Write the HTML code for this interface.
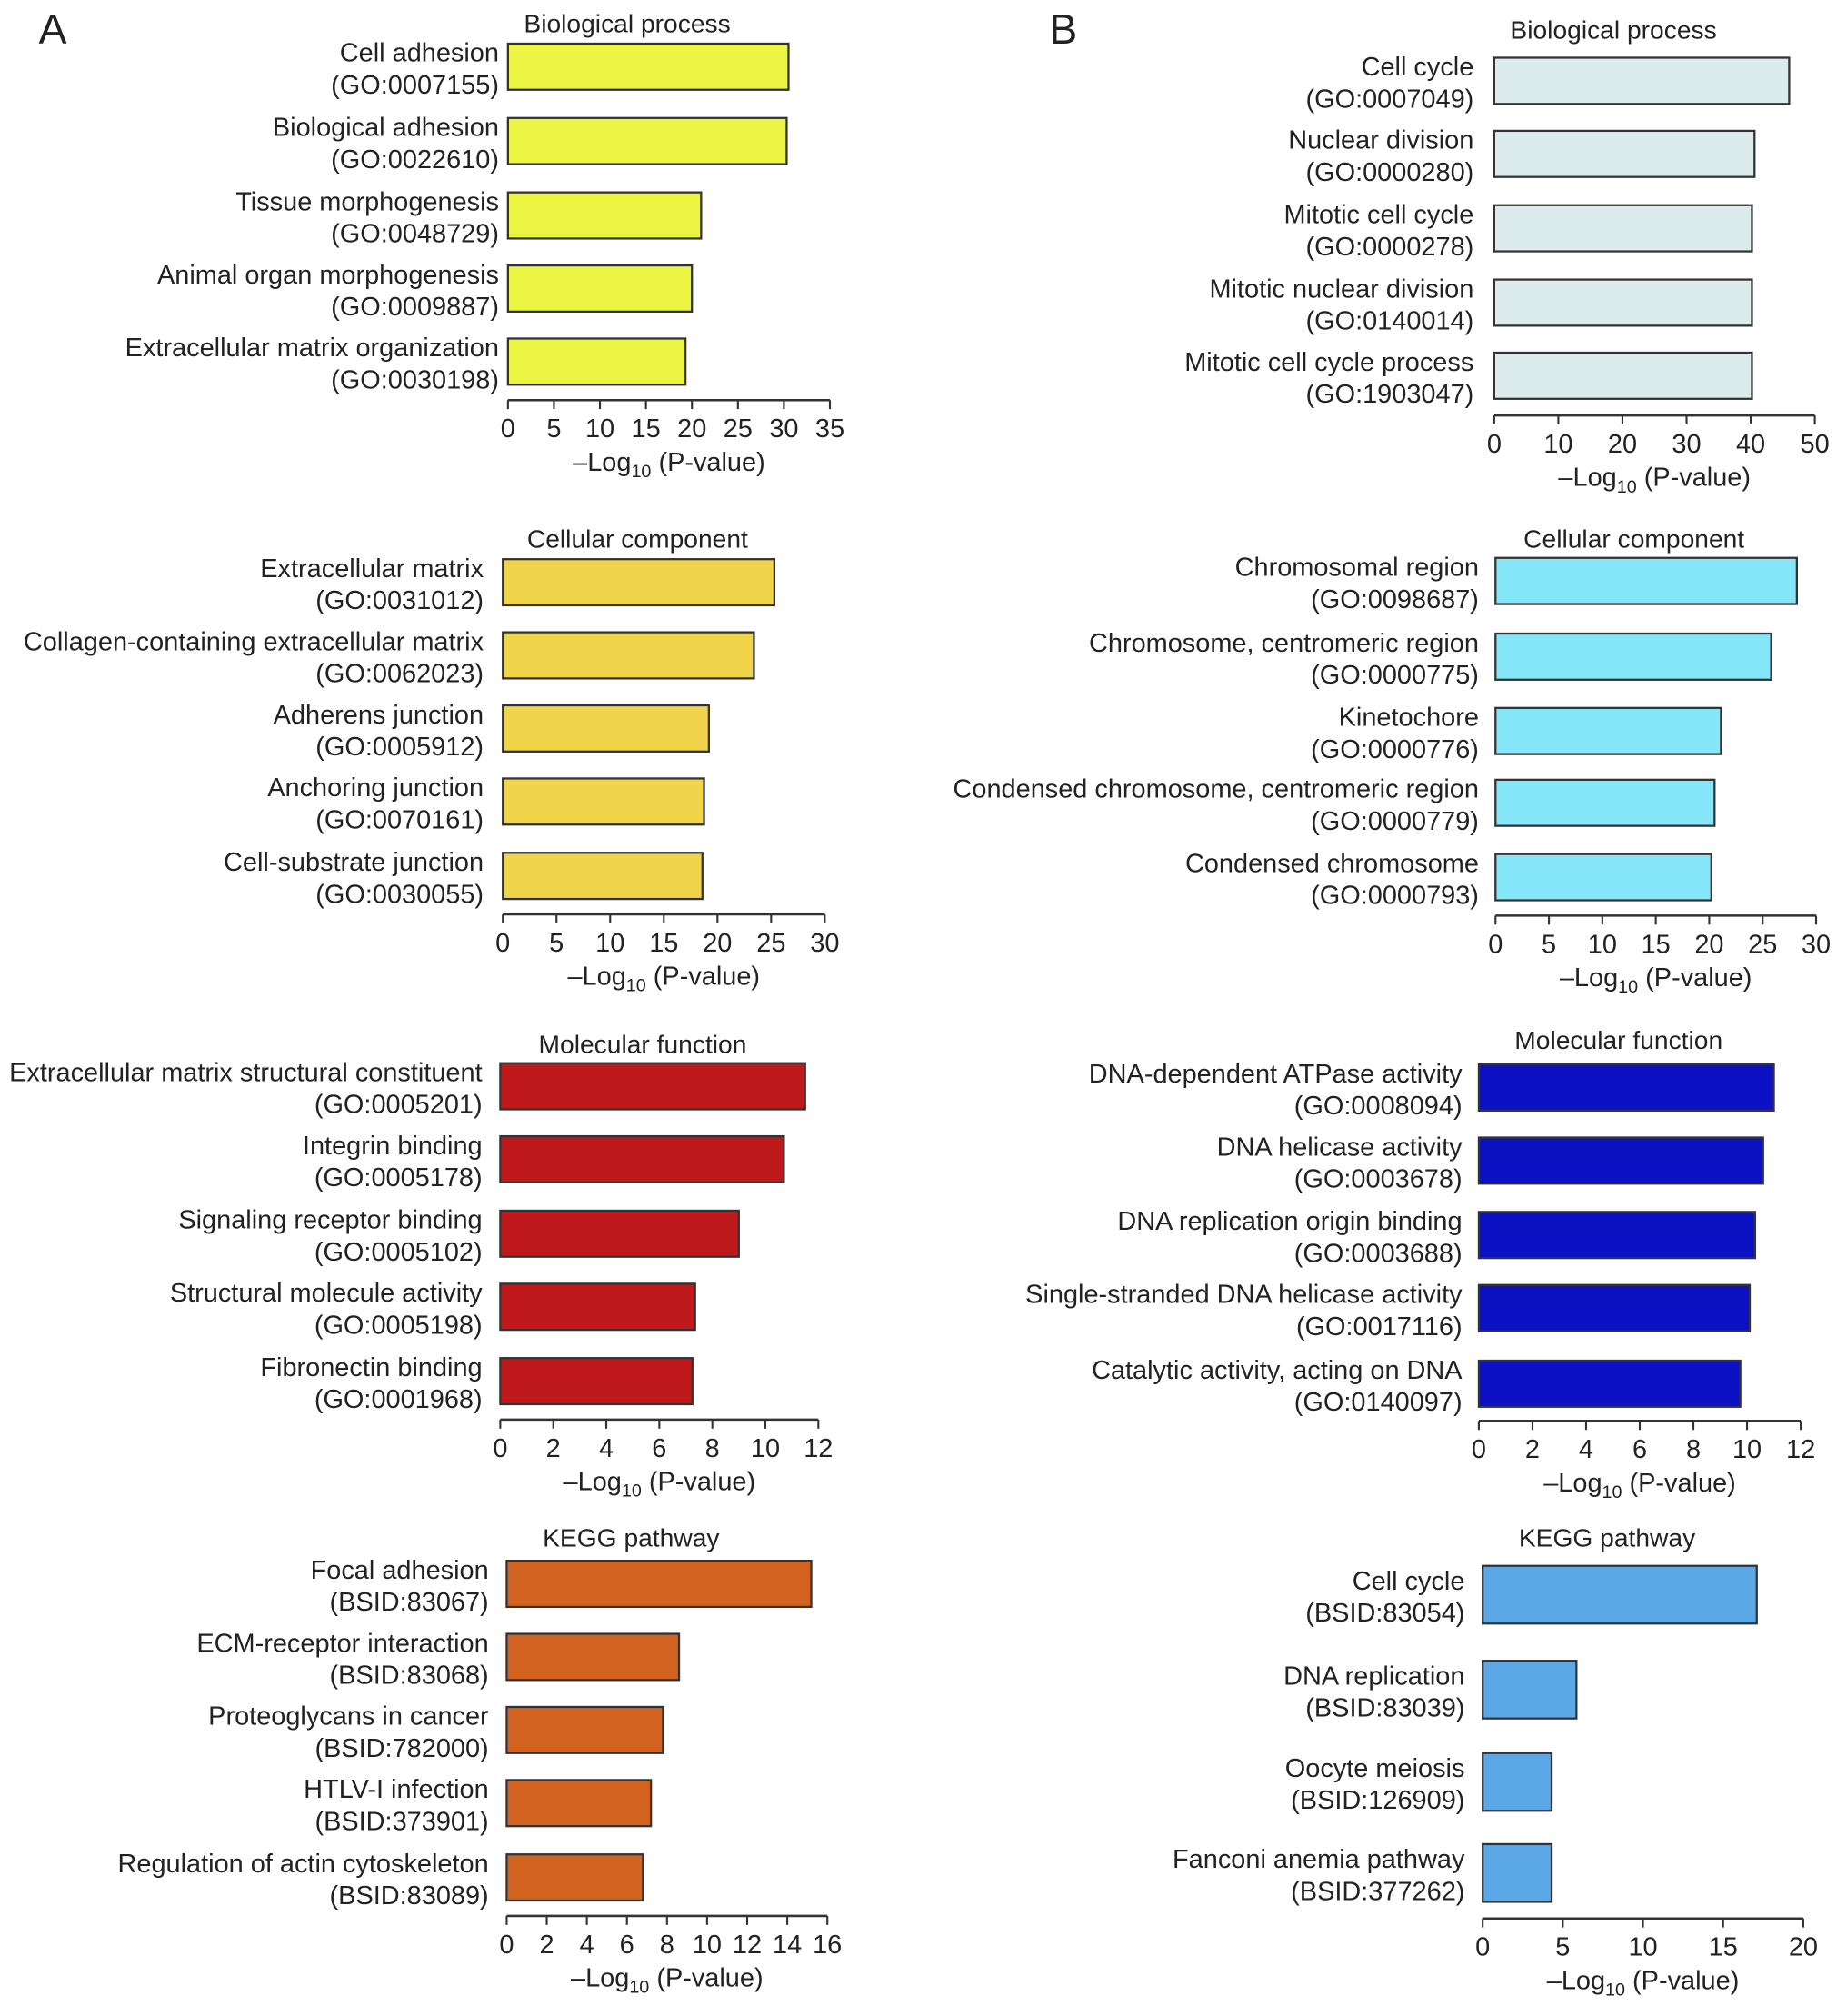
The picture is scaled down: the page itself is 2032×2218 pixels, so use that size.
<!DOCTYPE html>
<html><head><meta charset="utf-8"><style>
html,body{margin:0;padding:0;background:#fff}
svg{display:block}
text{font-family:"Liberation Sans",sans-serif;fill:#222}
</style></head><body>
<svg id="fig" width="2032" height="2218" viewBox="0 0 1440 1572" xmlns="http://www.w3.org/2000/svg">
<text x="30" y="34" font-size="33">A</text>
<text x="818" y="34" font-size="33">B</text>
</svg>
<script>
// ---- data ----
const aBpLabels = ["Cell adhesion","Biological adhesion","Tissue morphogenesis","Animal organ morphogenesis","Extracellular matrix organization"];
const aBpIds = ["(GO:0007155)","(GO:0022610)","(GO:0048729)","(GO:0009887)","(GO:0030198)"];
const aBpValues = [30.5,30.3,21.0,20.0,19.3];
const aBpTicks = [0,5,10,15,20,25,30,35];

const aCcLabels = ["Extracellular matrix","Collagen-containing extracellular matrix","Adherens junction","Anchoring junction","Cell-substrate junction"];
const aCcIds = ["(GO:0031012)","(GO:0062023)","(GO:0005912)","(GO:0070161)","(GO:0030055)"];
const aCcValues = [25.3,23.4,19.2,18.75,18.6];
const aCcTicks = [0,5,10,15,20,25,30];

const aMfLabels = ["Extracellular matrix structural constituent","Integrin binding","Signaling receptor binding","Structural molecule activity","Fibronectin binding"];
const aMfIds = ["(GO:0005201)","(GO:0005178)","(GO:0005102)","(GO:0005198)","(GO:0001968)"];
const aMfValues = [11.5,10.7,9.0,7.35,7.25];
const aMfTicks = [0,2,4,6,8,10,12];

const aKeggLabels = ["Focal adhesion","ECM-receptor interaction","Proteoglycans in cancer","HTLV-I infection","Regulation of actin cytoskeleton"];
const aKeggIds = ["(BSID:83067)","(BSID:83068)","(BSID:782000)","(BSID:373901)","(BSID:83089)"];
const aKeggValues = [15.2,8.6,7.8,7.2,6.8];
const aKeggTicks = [0,2,4,6,8,10,12,14,16];

const bBpLabels = ["Cell cycle","Nuclear division","Mitotic cell cycle","Mitotic nuclear division","Mitotic cell cycle process"];
const bBpIds = ["(GO:0007049)","(GO:0000280)","(GO:0000278)","(GO:0140014)","(GO:1903047)"];
const bBpValues = [46.0,40.6,40.2,40.2,40.2];
const bBpTicks = [0,10,20,30,40,50];

const bCcLabels = ["Chromosomal region","Chromosome, centromeric region","Kinetochore","Condensed chromosome, centromeric region","Condensed chromosome"];
const bCcIds = ["(GO:0098687)","(GO:0000775)","(GO:0000776)","(GO:0000779)","(GO:0000793)"];
const bCcValues = [28.2,25.8,21.1,20.5,20.2];
const bCcTicks = [0,5,10,15,20,25,30];

const bMfLabels = ["DNA-dependent ATPase activity","DNA helicase activity","DNA replication origin binding","Single-stranded DNA helicase activity","Catalytic activity, acting on DNA"];
const bMfIds = ["(GO:0008094)","(GO:0003678)","(GO:0003688)","(GO:0017116)","(GO:0140097)"];
const bMfValues = [11.0,10.6,10.3,10.1,9.75];
const bMfTicks = [0,2,4,6,8,10,12];

const bKeggLabels = ["Cell cycle","DNA replication","Oocyte meiosis","Fanconi anemia pathway"];
const bKeggIds = ["(BSID:83054)","(BSID:83039)","(BSID:126909)","(BSID:377262)"];
const bKeggValues = [17.1,5.85,4.3,4.3];
const bKeggTicks = [0,5,10,15,20];

const NS = "http://www.w3.org/2000/svg";
const svg = document.getElementById('fig');
const FS = 20.5;
function mk(tag, attrs, parent){
  const e = document.createElementNS(NS, tag);
  for (const k in attrs) e.setAttribute(k, attrs[k]);
  (parent||svg).appendChild(e);
  return e;
}
function panel(o){
  const g = mk('g', {});
  
  
  const tmax = o.ticks[o.ticks.length-1];
  const xs = v => o.x0 + v / tmax * o.w;
  const gap = o.gap || 14;
  const t = mk('text', {x:o.titleX, y:o.titleY, 'font-size':20, 'text-anchor':'middle'}, g);
  t.textContent = o.title;
  
  
  o.values.forEach((v,i)=>{
    const top = o.tops[i];
    const r = mk('rect', {x:xs(0), y:top, width:xs(v)-xs(0), height:o.bh, fill:o.color, stroke:'#333', 'stroke-width':1.6}, g);
    
    
    const l1 = mk('text', {x:o.x0-gap, y:top+o.bh/2-4, 'font-size':FS, 'text-anchor':'end'}, g);
    l1.textContent = o.labels[i];
    
    
    const l2 = mk('text', {x:o.x0-gap, y:top+o.bh/2+21, 'font-size':FS, 'text-anchor':'end'}, g);
    l2.textContent = o.ids[i];
    
    
  });
  const ax = mk('line', {x1:xs(0), x2:xs(tmax), y1:o.axisY, y2:o.axisY, stroke:'#333', 'stroke-width':1.8}, g);
  
  
  o.ticks.forEach(tv=>{
    const tk = mk('line', {x1:xs(tv), x2:xs(tv), y1:o.axisY, y2:o.axisY+7, stroke:'#333', 'stroke-width':1.5}, g);
    
    
    const tl = mk('text', {x:xs(tv), y:o.axisY+29, 'font-size':FS, 'text-anchor':'middle'}, g);
    tl.textContent = tv;
    
    
  });
  const at = mk('text', {x:xs(tmax/2), y:o.axisY+55, 'font-size':FS, 'text-anchor':'middle'}, g);
  at.innerHTML = '\u2013Log<tspan font-size="14" dy="5">10</tspan><tspan dy="-5"> (P-value)</tspan>';
  
  
}
panel({name:'a-biological-process', title:'Biological process', titleX:489, titleY:25, x0:396, w:251, axisY:312, gap:7,
  tops:[34,92,150,207,264], bh:36, labels:aBpLabels, ids:aBpIds, values:aBpValues, ticks:aBpTicks, color:'#ebf542'});
panel({name:'a-cellular-component', title:'Cellular component', titleX:497, titleY:427, x0:392, w:251, axisY:713, gap:15,
  tops:[436,493,550,607,665], bh:36, labels:aCcLabels, ids:aCcIds, values:aCcValues, ticks:aCcTicks, color:'#f0d44c'});
panel({name:'a-molecular-function', title:'Molecular function', titleX:501, titleY:821, x0:390, w:248, axisY:1107, gap:14,
  tops:[829,886,944,1001,1059], bh:36, labels:aMfLabels, ids:aMfIds, values:aMfValues, ticks:aMfTicks, color:'#c0191c'});
panel({name:'a-kegg-pathway', title:'KEGG pathway', titleX:492, titleY:1206, x0:395, w:250, axisY:1494, gap:14,
  tops:[1217,1274,1331,1388,1446], bh:36, labels:aKeggLabels, ids:aKeggIds, values:aKeggValues, ticks:aKeggTicks, color:'#d2621f'});
panel({name:'b-biological-process', title:'Biological process', titleX:1258, titleY:30, x0:1165, w:250, axisY:324, gap:16,
  tops:[45,102,160,218,275], bh:36, labels:bBpLabels, ids:bBpIds, values:bBpValues, ticks:bBpTicks, color:'#dcecec'});
panel({name:'b-cellular-component', title:'Cellular component', titleX:1274, titleY:427, x0:1166, w:250, axisY:714, gap:13,
  tops:[435,494,552,608,666], bh:36, labels:bCcLabels, ids:bCcIds, values:bCcValues, ticks:bCcTicks, color:'#84e6f8'});
panel({name:'b-molecular-function', title:'Molecular function', titleX:1262, titleY:818, x0:1153, w:251, axisY:1108, gap:13,
  tops:[830,887,945,1002,1061], bh:36, labels:bMfLabels, ids:bMfIds, values:bMfValues, ticks:bMfTicks, color:'#0c12c4'});
panel({name:'b-kegg-pathway', title:'KEGG pathway', titleX:1253, titleY:1206, x0:1156, w:250, axisY:1496, gap:14,
  tops:[1221,1295,1367,1438], bh:45, labels:bKeggLabels, ids:bKeggIds, values:bKeggValues, ticks:bKeggTicks, color:'#5ca8e6'});
</script>
</body></html>
